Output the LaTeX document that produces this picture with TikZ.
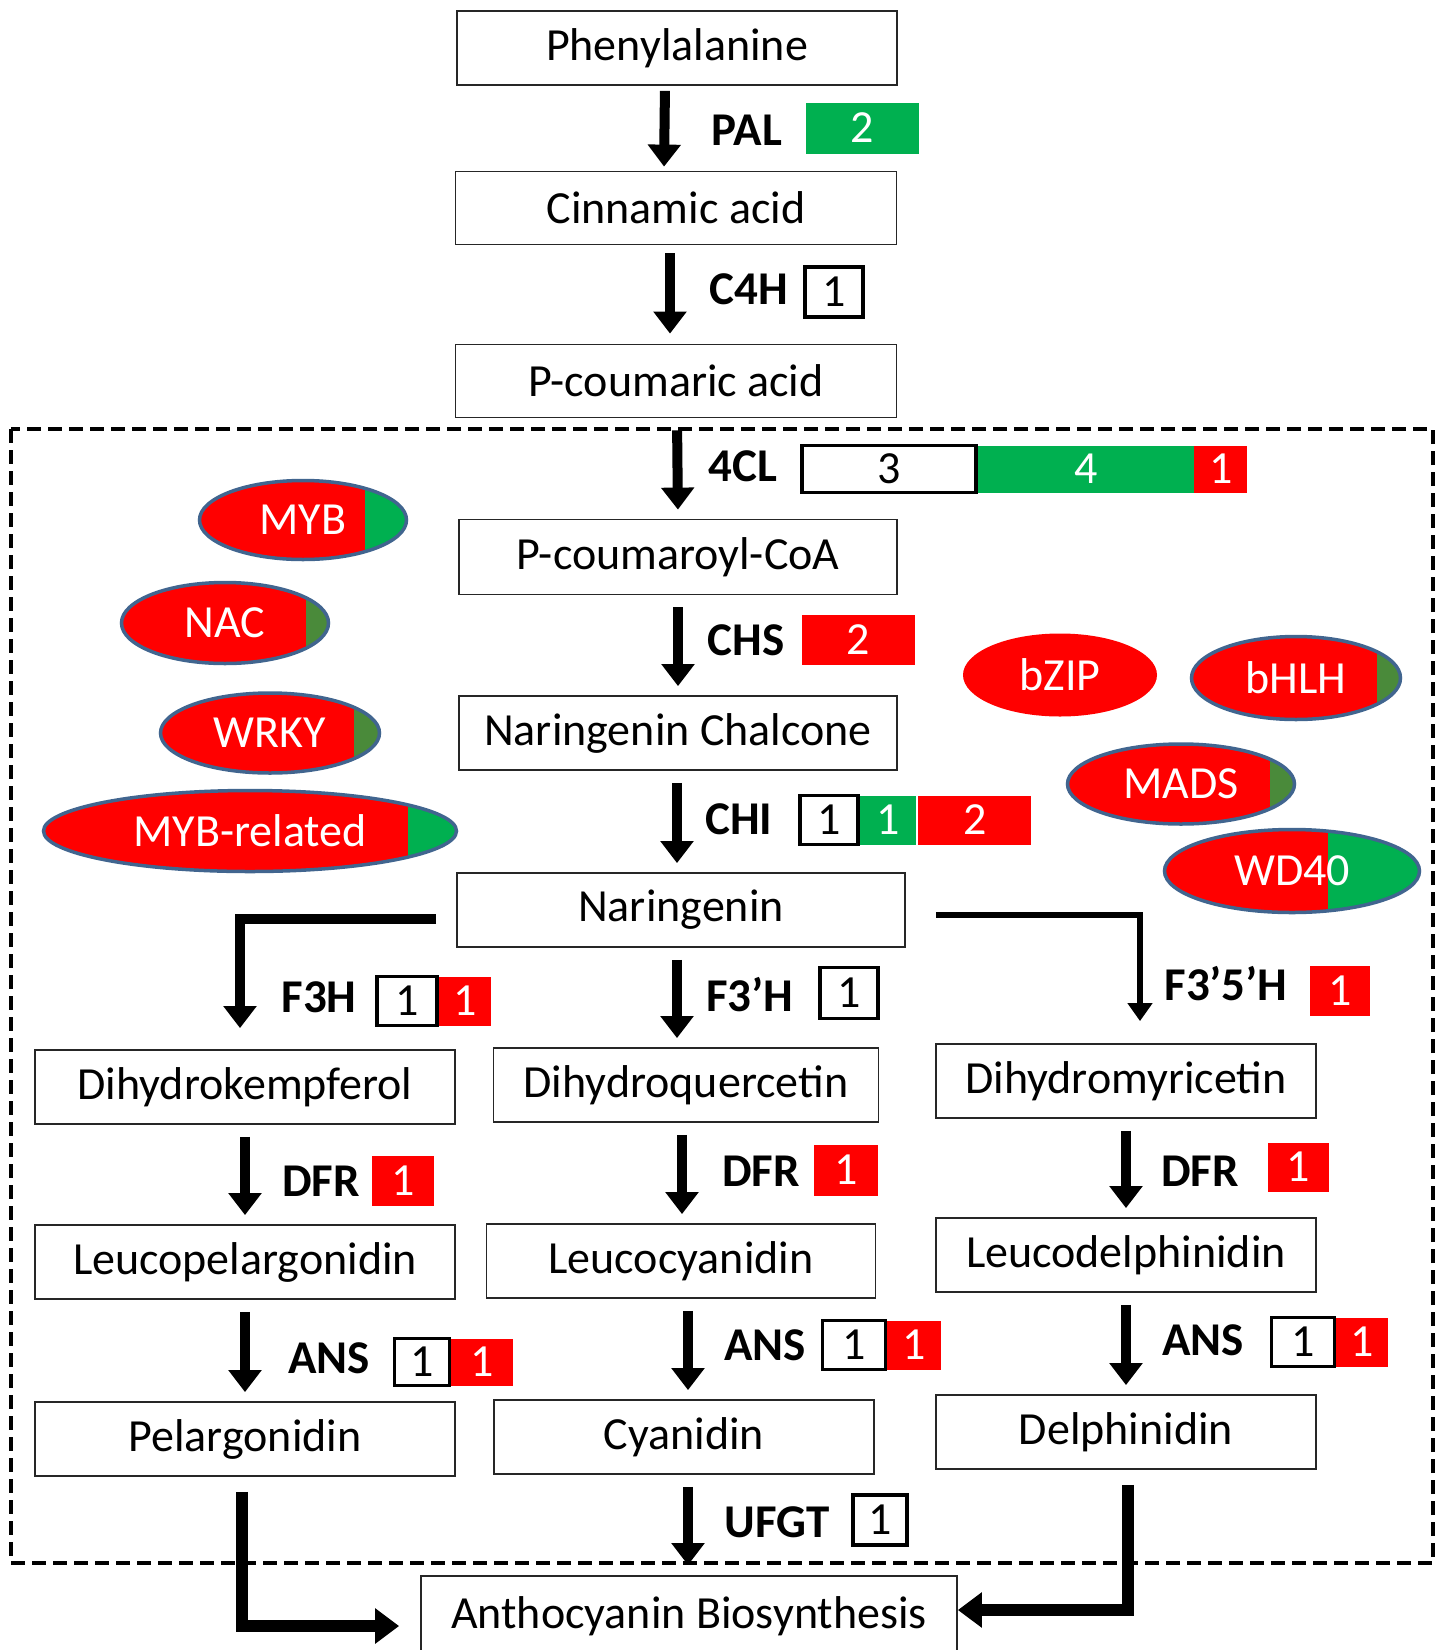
\documentclass[tikz,border=0pt]{standalone}
\usepackage{fontspec}
\setmainfont{Carlito}
\usetikzlibrary{arrows.meta,shapes.geometric,positioning}
\definecolor{okgreen}{HTML}{00B050}
\definecolor{okred}{HTML}{FF0000}
\definecolor{slice}{HTML}{4A8A3A}
\definecolor{tfline}{HTML}{41658F}

\begin{document}
\begin{tikzpicture}[x=1pt,y=-1pt,font=\fontsize{46}{52}\selectfont,
  box/.style={draw=black!85,line width=1.8pt,minimum height=74pt,inner sep=0pt},
  lab/.style={font=\fontsize{47}{52}\selectfont\bfseries},
  num/.style={minimum height=49pt,inner sep=0pt,text=white},
  wnum/.style={num,draw=black,line width=3.5pt,fill=white,text=black},
  gnum/.style={num,fill=okgreen},
  rnum/.style={num,fill=okred},
  flow/.style={line width=10pt,shorten <=12pt,shorten >=9pt,-{Triangle[width=32pt,length=22pt]}},
  tf/.style 2 args={ellipse,fill=okred,draw=tfline,line width=3.5pt,text=white,inner sep=0pt,
    path picture={\fill[#2] ([xshift=-#1]path picture bounding box.south east) rectangle (path picture bounding box.north east);}}]
\useasboundingbox (0,0) rectangle (1443,1650);
% frame round the flavonoid part
\draw[line width=4.5pt,dash pattern=on 14pt off 7pt] (11,429) rectangle (1433,1563);

% compounds
\node[box,minimum width=440pt] (phe) at (677,48) {Phenylalanine};
\node[box,minimum width=441pt,minimum height=73pt] (cin) at (676,208) {Cinnamic acid};
\node[box,minimum width=441pt,minimum height=73pt] (pcou) at (676,381) {P-coumaric acid};
\node[box,minimum width=438pt,minimum height=75pt] (pcoa) at (678,557) {P-coumaroyl-CoA};
\node[box,minimum width=438pt] (chal) at (678,733) {Naringenin Chalcone};
\node[box,minimum width=448pt] (nar) at (681,910) {Naringenin};
\node[box,minimum width=420pt] (dhk) at (245,1087) {Dihydrokempferol};
\node[box,minimum width=385pt] (dhq) at (686,1085) {Dihydroquercetin};
\node[box,minimum width=380pt] (dhm) at (1126,1081) {Dihydromyricetin};
\node[box,minimum width=420pt] (lpel) at (245,1262) {Leucopelargonidin};
\node[box,minimum width=389pt] (lcya) at (681,1261) {Leucocyanidin};
\node[box,minimum width=380pt] (ldel) at (1126,1255) {Leucodelphinidin};
\node[box,minimum width=420pt] (pel) at (245,1439) {Pelargonidin};
\node[box,minimum width=380pt] (cya) at (684,1437) {Cyanidin};
\node[box,minimum width=380pt] (del) at (1126,1432) {Delphinidin};
\node[box,minimum width=536pt,minimum height=80pt] (anth) at (689,1616) {Anthocyanin Biosynthesis};

% steps
\draw[flow,shorten <=5pt,shorten >=4pt] ([xshift=-12pt]phe.south) -- ([xshift=-12pt]cin.north);
\draw[flow,shorten <=8pt,shorten >=10pt] ([xshift=-6pt]cin.south) -- ([xshift=-6pt]pcou.north);
\draw[flow] ([xshift=1pt]pcou.south) -- (pcoa.north);
\draw[flow] (pcoa.south) -- (chal.north);
\draw[flow] ([xshift=-1pt]chal.south) -- ([xshift=-4pt]nar.north);
\draw[flow] ([xshift=-4pt]nar.south) -- ([xshift=-9pt]dhq.north);
\draw[flow,shorten <=5pt,shorten >=21pt] ([xshift=-15pt,yshift=-9pt]nar.west) -| ([xshift=-5pt]dhk.north);
\draw[flow,line width=6pt,shorten <=5pt,shorten >=22pt,-{Triangle[width=24pt,length=18pt]}] ([xshift=25pt,yshift=-5pt]nar.east) -| ([xshift=14pt]dhm.north);
\draw[flow] (dhk.south) -- (lpel.north);
\draw[flow] ([xshift=-4pt]dhq.south) -- ([xshift=1pt]lcya.north);
\draw[flow] (dhm.south) -- (ldel.north);
\draw[flow] (lpel.south) -- (pel.north);
\draw[flow] ([xshift=7pt]lcya.south) -- ([xshift=4pt]cya.north);
\draw[flow] (ldel.south) -- (del.north);
\draw[flow,shorten >=10pt] ([xshift=4pt]cya.south) -- ([xshift=-1pt]anth.north);
\draw[flow,line width=12pt,shorten <=15pt,shorten >=21pt,-{Triangle[width=34pt,length=24pt]}] ([xshift=-3pt]pel.south) |- ([yshift=-10pt]anth.west);
\draw[flow,line width=12pt,shorten <=15pt,shorten >=0pt,-{Triangle[width=34pt,length=24pt]}] ([xshift=2pt]del.south) |- ([yshift=6pt]anth.east);

% enzymes and gene counts
\node[lab] (pal) at (747,130) {PAL};
\node[gnum,minimum width=113pt,minimum height=51pt] (pal2) at (862,128) {2};
\node[lab] (c4h) at (749,289) {C4H};
\node[wnum,minimum width=58pt,minimum height=50pt] (c4h1) at (834,292) {1};
\node[lab] (fcl) at (743,466) {4CL};
\node[wnum,minimum width=174pt,minimum height=47pt] (fcl3) at (889,469) {3};
\node[gnum,minimum width=216pt,minimum height=47pt,right=0pt of fcl3] (fcl4) {4};
\node[rnum,minimum width=53pt,minimum height=47pt,right=0pt of fcl4] (fcl1) {1};
\node[lab] (chs) at (746,640) {CHS};
\node[rnum,minimum width=113pt,minimum height=50pt] (chs2) at (858,640) {2};
\node[lab] (chi) at (739,819) {CHI};
\node[wnum,minimum width=58pt] (chi1) at (829,820) {1};
\node[gnum,minimum width=56pt,right=0pt of chi1] (chi1g) {1};
\node[rnum,minimum width=113pt,right=2pt of chi1g] (chi2) {2};
\node[lab] (fh) at (319,997) {F3H};
\node[wnum,minimum width=60pt] (fh1) at (407,1001) {1};
\node[rnum,minimum width=52pt,right=0pt of fh1] (fh1r) {1};
\node[lab] (fph) at (750,995) {F3’H};
\node[wnum,minimum width=58pt,minimum height=51pt] (fph1) at (849,993) {1};
\node[lab] (fpph) at (1226,984) {F3’5’H};
\node[rnum,minimum width=60pt,minimum height=50pt] (fpph1) at (1340,991) {1};
\node[lab] (dfra) at (321,1181) {DFR};
\node[rnum,minimum width=62pt,minimum height=50pt] (dfra1) at (403,1181) {1};
\node[lab] (dfrb) at (761,1171) {DFR};
\node[rnum,minimum width=64pt,minimum height=51pt] (dfrb1) at (846,1170) {1};
\node[lab] (dfrc) at (1200,1171) {DFR};
\node[rnum,minimum width=61pt] (dfrc1) at (1298,1167) {1};
\node[lab] (ansa) at (329,1358) {ANS};
\node[wnum,minimum width=55pt,minimum height=47pt] (ansa1) at (422,1362) {1};
\node[rnum,minimum width=62pt,minimum height=47pt,right=0pt of ansa1] (ansa1r) {1};
\node[lab] (ansb) at (765,1345) {ANS};
\node[wnum,minimum width=63pt] (ansb1) at (854,1345) {1};
\node[rnum,minimum width=54pt,right=0pt of ansb1] (ansb1r) {1};
\node[lab] (ansc) at (1203,1340) {ANS};
\node[wnum,minimum width=63pt] (ansc1) at (1303,1342) {1};
\node[rnum,minimum width=52pt,right=0pt of ansc1] (ansc1r) {1};
\node[lab] (ufgt) at (777,1522) {UFGT};
\node[wnum,minimum width=54pt,minimum height=50pt] (ufgt1) at (880,1520) {1};

% transcription factors
\node[tf={42pt}{okgreen},minimum width=207pt,minimum height=79pt] (myb) at (303,520) {MYB};
\node[tf={23pt}{slice},minimum width=207pt,minimum height=81pt] (nac) at (225,623) {NAC};
\node[tf={26pt}{slice},minimum width=219pt,minimum height=80pt] (wrky) at (270,733) {WRKY};
\node[tf={49pt}{okgreen},minimum width=413pt,minimum height=81pt] (mybr) at (250,831) {MYB-related};
\node[tf={0pt}{okgreen},draw=none,minimum width=194pt,minimum height=83pt] (bzip) at (1060,675) {bZIP};
\node[tf={24pt}{slice},minimum width=209pt,minimum height=83pt] (bhlh) at (1296,678) {bHLH};
\node[tf={25pt}{slice},minimum width=227pt,minimum height=80pt] (mads) at (1181,784) {MADS};
\node[tf={92pt}{okgreen},minimum width=255pt,minimum height=83pt] (wd40) at (1292,871) {WD40};
\end{tikzpicture}
\end{document}
